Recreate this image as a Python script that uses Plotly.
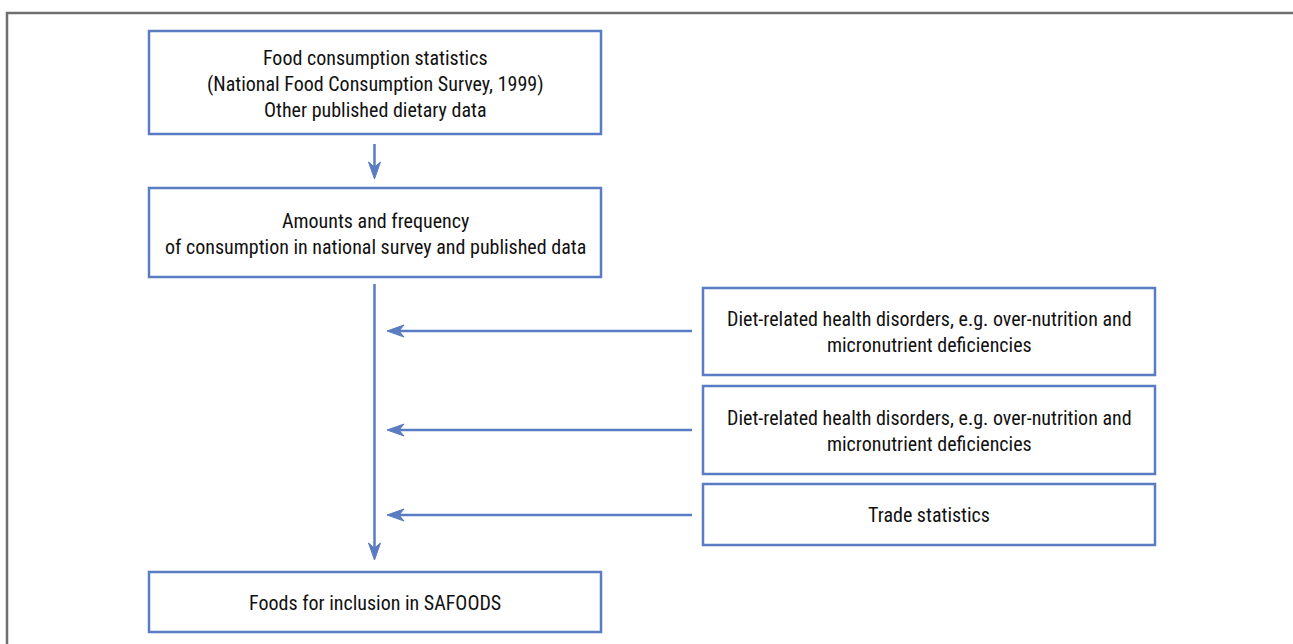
import plotly.graph_objects as go

# ---- content ----
box_texts = [
    "Food consumption statistics<br>(National Food Consumption Survey, 1999)<br>Other published dietary data",
    "Amounts and frequency<br>of consumption in national survey and published data",
    "Diet-related health disorders, e.g. over-nutrition and<br>micronutrient deficiencies",
    "Diet-related health disorders, e.g. over-nutrition and<br>micronutrient deficiencies",
    "Trade statistics",
    "Foods for inclusion in SAFOODS",
]

# box geometry (pixel space: x0, x1, y0, y1)
box_x0 = [149, 149, 703, 703, 703, 149]
box_x1 = [601, 601, 1155, 1155, 1155, 601]
box_y0 = [31, 188, 288, 386, 484, 572]
box_y1 = [134, 277, 375, 474, 545, 632]
text_y = [84, 234, 332, 431, 515, 603]

W, H = 1293, 644
BLUE = "#5a7cc2"
FRAME = "#6f6f6f"
FONT = "Liberation Sans Narrow, Roboto Condensed, Arial Narrow, Roboto, sans-serif"

fig = go.Figure()
shapes = []
annotations = []

# outer frame (left and top edges)
shapes.append(dict(type="path", path=f"M 7,{H + 5} L 7,13 L {W + 5},13",
                   line=dict(color=FRAME, width=2.5), xref="x", yref="y"))

for x0, x1, y0, y1, ty, t in zip(box_x0, box_x1, box_y0, box_y1, text_y, box_texts):
    shapes.append(dict(type="rect", x0=x0, x1=x1, y0=y0, y1=y1,
                       line=dict(color=BLUE, width=2.5), fillcolor="white",
                       xref="x", yref="y"))
    annotations.append(dict(x=(x0 + x1) / 2, y=ty, text=t, showarrow=False,
                            xref="x", yref="y", xanchor="center", yanchor="middle",
                            font=dict(family=FONT, size=20, color="#111111")))

HL, HW, NOTCH = 17, 6, 12


def arrow(xs, ys, xe, ye):
    # line from (xs,ys) to tip (xe,ye) with stealth head
    dx, dy = xe - xs, ye - ys
    length = (dx ** 2 + dy ** 2) ** 0.5
    ux, uy = dx / length, dy / length
    px, py = -uy, ux
    bx, by = xe - ux * HL, ye - uy * HL
    nx, ny = xe - ux * NOTCH, ye - uy * NOTCH
    shapes.append(dict(type="line", x0=xs, y0=ys, x1=nx, y1=ny,
                       line=dict(color=BLUE, width=2.5), xref="x", yref="y"))
    path = (f"M {xe},{ye} L {bx + px * HW},{by + py * HW} L {nx},{ny} "
            f"L {bx - px * HW},{by - py * HW} Z")
    shapes.append(dict(type="path", path=path, fillcolor=BLUE,
                       line=dict(color=BLUE, width=1), xref="x", yref="y"))


cx = 374.5
arrow(cx, 144, cx, 179)
arrow(cx, 284, cx, 560)
for yy in [331, 430, 515]:
    arrow(692, yy, 387, yy)

fig.update_layout(
    width=W, height=H,
    margin=dict(l=0, r=0, t=0, b=0),
    paper_bgcolor="white", plot_bgcolor="white",
    xaxis=dict(range=[0, W], visible=False, fixedrange=True),
    yaxis=dict(range=[H, 0], visible=False, fixedrange=True),
    shapes=shapes, annotations=annotations, showlegend=False,
)
fig.write_html(
    "out.html",
    config={"displayModeBar": False},
    post_script="document.body.style.margin='0';document.body.style.overflow='hidden';",
)
